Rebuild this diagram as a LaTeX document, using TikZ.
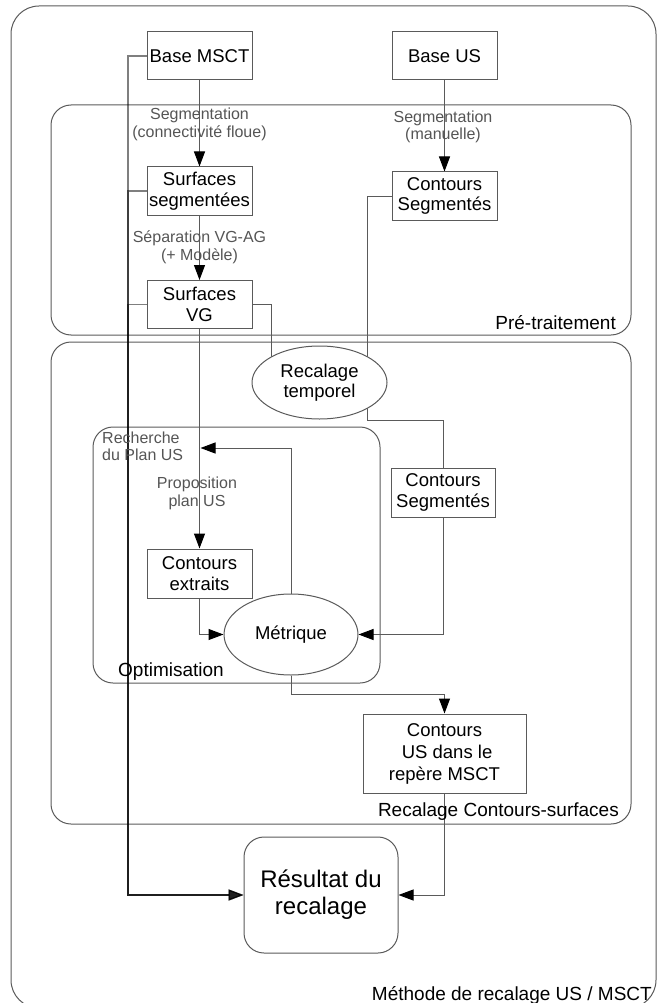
\documentclass[tikz,border=0pt]{standalone}
\usepackage{fontspec}
\setmainfont{Liberation Sans}
\usetikzlibrary{shapes.geometric,arrows.meta}
\pgfdeclarelayer{bg}
\pgfsetlayers{bg,main}
\definecolor{ln}{HTML}{5A5A5A}
\definecolor{lbl}{HTML}{555555}
\tikzset{
 boxtxt/.style={font=\fontsize{18.5}{20.5}\selectfont, text=black, align=center},
 stepbox/.style={boxtxt, draw=ln, line width=1pt, fill=white, minimum width=105pt, minimum height=48pt, inner sep=0pt},
 ellbox/.style={boxtxt, ellipse, draw=ln, line width=1pt, fill=white, inner sep=0pt},
 container/.style={draw=ln, line width=1pt, rounded corners=20pt},
 edgelbl/.style={font=\fontsize{16}{17.5}\selectfont, text=lbl, align=center, inner sep=0pt},
 grouplbl/.style={font=\fontsize{19}{21}\selectfont, text=black, inner sep=0pt},
 conn/.style={draw=ln, line width=1pt},
 arr/.style={conn, -{Triangle[length=15pt,width=11pt,color=black]}},
 feed/.style={draw=black, line width=1.2pt, opacity=0.5, -{Triangle[length=15pt,width=11pt]}},
}
\begin{document}
\begin{tikzpicture}[x=1pt,y=-1pt]
\useasboundingbox (0,0) rectangle (657,1003);

% nodes
\node[stepbox] (bmsct) at (199.5,56) {Base MSCT};
\node[stepbox] (bus) at (444.5,56) {Base US};
\node[stepbox] (ss) at (199.5,191) {Surfaces\\segmentées};
\node[stepbox] (cs1) at (444.5,196) {Contours\\Segmentés};
\node[stepbox] (svg) at (199.5,304.5) {Surfaces\\VG};
\node[ellbox, minimum width=135pt, minimum height=73pt] (rt) at (319.5,382.5) {Recalage\\temporel};
\node[stepbox, minimum width=104pt, minimum height=49pt] (cs2) at (443,492.5) {Contours\\Segmentés};
\node[stepbox, minimum height=49pt] (ce) at (199.5,573.5) {Contours\\extraits};
\node[ellbox, minimum width=134pt, minimum height=81pt] (met) at (291,634.5) {Métrique};
\node[stepbox, minimum width=163pt, minimum height=79pt, font=\fontsize{18.5}{22}\selectfont] (cus) at (444.5,753.5) {Contours\\\mbox{}\ US dans le\\repère MSCT};
\node[stepbox, rounded corners=20pt, minimum width=154pt, minimum height=116pt, font=\fontsize{24}{27}\selectfont] (res) at (321,895) {Résultat du\\recalage};

% labels
\node[edgelbl] (l1) at (199.5,124.5) {Segmentation\\(connectivité floue)};
\node[edgelbl] (l2) at (443,127) {Segmentation\\(manuelle)};
\node[edgelbl] (l3) at (199.5,247.5) {Séparation VG-AG\\(+ Modèle)};
\node[edgelbl] (l4) at (197,493.5) {Proposition\\plan US};
\node[edgelbl, anchor=west, align=left] (l5) at (102,446.5) {Recherche\\du Plan US};
\node[grouplbl, anchor=east] (g1) at (616,323) {Pré-traitement};
\node[grouplbl, anchor=east] (g2) at (619,812) {Recalage Contours-surfaces};
\node[grouplbl, anchor=west] (g3) at (118,672) {Optimisation};
\node[grouplbl, anchor=east] (g4) at (652,995) {Méthode de recalage US / MSCT};

\coordinate (lx) at (128,895);
\coordinate (k1) at (367,420);
\coordinate (rp) at (200.5,448);
\coordinate (k2) at (291,694);

\begin{pgfonlayer}{bg}
% containers
\draw[container, rounded corners=28pt] (11,6) rectangle (656,1008);
\draw[container] (51,105) rectangle (631,335);
\draw[container] (51,342) rectangle (631,824);
\draw[container] (93,427) rectangle (380,683);

% connectors
\draw[feed] (bmsct.west) -| (lx) -- (res.west);
\draw[feed] (ss.west) -| (lx) -- (res.west);
\draw[feed] (svg.west) -| (lx) -- (res.west);
\draw[arr] (bmsct) -- (ss);
\draw[arr] (ss) -- (svg);
\draw[arr] (bus) -- (cs1);
\draw[conn] (svg.east) -| ([xshift=-48.5pt]rt.center);
\draw[conn] (cs1.west) -| ([xshift=47.5pt]rt.center);
\draw[conn] ([xshift=47.5pt]rt.center) -- (k1) -| (cs2.north);
\draw[arr] (svg) -- (ce);
\draw[arr] (met.north) |- (rp);
\draw[arr] (ce.south) |- (met.west);
\draw[arr] (cs2.south) |- (met.east);
\draw[arr] (met.south) -- (k2) -| (cus.north);
\draw[arr] (cus.south) |- (res.east);
\end{pgfonlayer}
\end{tikzpicture}
\end{document}
